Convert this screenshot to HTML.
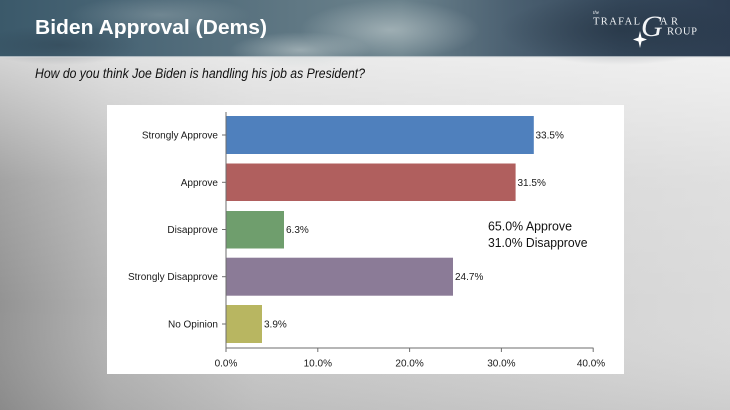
<!DOCTYPE html>
<html><head><meta charset="utf-8"><style>
html,body{margin:0;padding:0;width:730px;height:410px;overflow:hidden;}
svg{display:block;}
</style></head><body>
<svg width="730" height="410" viewBox="0 0 730 410" xmlns="http://www.w3.org/2000/svg">
<defs>
<linearGradient id="hdr" x1="0" y1="0" x2="1" y2="0">
<stop offset="0" stop-color="#3b596a"/>
<stop offset="0.18" stop-color="#4a6676"/>
<stop offset="0.4" stop-color="#5f7783"/>
<stop offset="0.55" stop-color="#6b828c"/>
<stop offset="0.7" stop-color="#4b6071"/>
<stop offset="0.85" stop-color="#35485b"/>
<stop offset="1" stop-color="#2d3d51"/>
</linearGradient>
<radialGradient id="cl1" cx="0.5" cy="0.5" r="0.5">
<stop offset="0" stop-color="#c9d3d4" stop-opacity="0.55"/>
<stop offset="1" stop-color="#c9d3d4" stop-opacity="0"/>
</radialGradient>
<radialGradient id="cl2" cx="0.5" cy="0.5" r="0.5">
<stop offset="0" stop-color="#1f2d3c" stop-opacity="0.5"/>
<stop offset="1" stop-color="#1f2d3c" stop-opacity="0"/>
</radialGradient>
<linearGradient id="bgh" x1="0" y1="0" x2="1" y2="0">
<stop offset="0" stop-color="#939393"/>
<stop offset="0.15" stop-color="#b4b4b4"/>
<stop offset="0.35" stop-color="#c9c9c9"/>
<stop offset="1" stop-color="#dadada"/>
</linearGradient>
<linearGradient id="bgv" x1="0" y1="0" x2="0" y2="1">
<stop offset="0" stop-color="#ffffff" stop-opacity="0.6"/>
<stop offset="0.35" stop-color="#ffffff" stop-opacity="0.15"/>
<stop offset="0.7" stop-color="#ffffff" stop-opacity="0"/>
<stop offset="1" stop-color="#000000" stop-opacity="0.06"/>
</linearGradient>
</defs>

<!-- background -->
<rect x="0" y="57" width="730" height="353" fill="url(#bgh)"/>
<rect x="0" y="57" width="730" height="353" fill="url(#bgv)"/>

<!-- header -->
<rect x="0" y="0" width="730" height="57" fill="url(#hdr)"/>
<ellipse cx="390" cy="30" rx="90" ry="30" fill="url(#cl1)"/>
<ellipse cx="300" cy="50" rx="70" ry="18" fill="url(#cl1)"/>
<ellipse cx="160" cy="15" rx="90" ry="20" fill="url(#cl1)" opacity="0.5"/>
<ellipse cx="620" cy="30" rx="120" ry="35" fill="url(#cl2)"/>
<ellipse cx="60" cy="45" rx="80" ry="20" fill="url(#cl2)" opacity="0.6"/>
<rect x="0" y="56" width="730" height="1.5" fill="#d8dde0" opacity="0.7"/>

<text x="35" y="34" font-family="Liberation Sans, Arial, sans-serif" font-weight="bold" font-size="20.5" fill="#ffffff" textLength="232" lengthAdjust="spacingAndGlyphs">Biden Approval (Dems)</text>

<!-- logo -->
<g fill="#f2f4f6" font-family="Liberation Serif, serif">
<text x="593" y="14" font-size="5" font-style="italic">the</text>
<text x="593" y="24.5" font-size="10.5" textLength="47" lengthAdjust="spacing">TRAFAL</text>
<text x="641" y="36" font-size="30" font-style="italic">G</text>
<text x="660" y="24.5" font-size="10.5" textLength="18" lengthAdjust="spacing">AR</text>
<text x="667" y="34.5" font-size="10.5" textLength="30" lengthAdjust="spacing">ROUP</text>
<polygon points="640,31 641.5,37.5 647,39.5 641.5,41.5 640,48 638.5,41.5 633,39.5 638.5,37.5" fill="#ffffff"/>
</g>

<!-- subtitle -->
<text x="35" y="78" font-family="Liberation Sans, Arial, sans-serif" font-style="italic" font-size="13.5" fill="#111" textLength="330" lengthAdjust="spacingAndGlyphs">How do you think Joe Biden is handling his job as President?</text>

<!-- chart panel -->
<rect x="107" y="105" width="517" height="269" fill="#ffffff"/>

<!-- bars -->
<rect x="226" y="116" width="307.8" height="38" fill="#4f80bd"/>
<rect x="226" y="163.5" width="289.6" height="37.5" fill="#b05f5e"/>
<rect x="226" y="211" width="58" height="37.5" fill="#6f9e6d"/>
<rect x="226" y="257.7" width="227" height="38" fill="#8b7b97"/>
<rect x="226" y="305" width="36" height="38" fill="#b8b661"/>

<!-- axes -->
<g stroke="#6e6e6e" stroke-width="1">
<line x1="226" y1="112" x2="226" y2="352"/>
<line x1="226" y1="348" x2="593.5" y2="348"/>
<line x1="317.8" y1="348" x2="317.8" y2="352"/>
<line x1="409.6" y1="348" x2="409.6" y2="352"/>
<line x1="501.4" y1="348" x2="501.4" y2="352"/>
<line x1="593.2" y1="348" x2="593.2" y2="352"/>
<line x1="222" y1="135" x2="226" y2="135"/>
<line x1="222" y1="182.3" x2="226" y2="182.3"/>
<line x1="222" y1="229.5" x2="226" y2="229.5"/>
<line x1="222" y1="276.7" x2="226" y2="276.7"/>
<line x1="222" y1="324" x2="226" y2="324"/>
</g>

<!-- category labels -->
<g font-family="Liberation Sans, Arial, sans-serif" font-size="10" fill="#1a1a1a" text-anchor="end">
<text x="218" y="138.5">Strongly Approve</text>
<text x="218" y="185.8">Approve</text>
<text x="218" y="233">Disapprove</text>
<text x="218" y="280.2">Strongly Disapprove</text>
<text x="218" y="327.5">No Opinion</text>
</g>

<!-- value labels -->
<g font-family="Liberation Sans, Arial, sans-serif" font-size="10" fill="#1a1a1a">
<text x="535.5" y="138.5">33.5%</text>
<text x="517.5" y="185.8">31.5%</text>
<text x="286" y="233">6.3%</text>
<text x="455" y="280.2">24.7%</text>
<text x="264" y="327.5">3.9%</text>
</g>

<!-- tick labels -->
<g font-family="Liberation Sans, Arial, sans-serif" font-size="10" fill="#1a1a1a" text-anchor="middle">
<text x="226" y="366.5">0.0%</text>
<text x="317.8" y="366.5">10.0%</text>
<text x="409.6" y="366.5">20.0%</text>
<text x="501.4" y="366.5">30.0%</text>
<text x="591" y="366.5">40.0%</text>
</g>

<!-- annotation -->
<g font-family="Liberation Sans, Arial, sans-serif" font-size="13" fill="#111">
<text x="488" y="230.5" textLength="84" lengthAdjust="spacingAndGlyphs">65.0% Approve</text>
<text x="488" y="247" textLength="99.5" lengthAdjust="spacingAndGlyphs">31.0% Disapprove</text>
</g>
</svg>
</body></html>
